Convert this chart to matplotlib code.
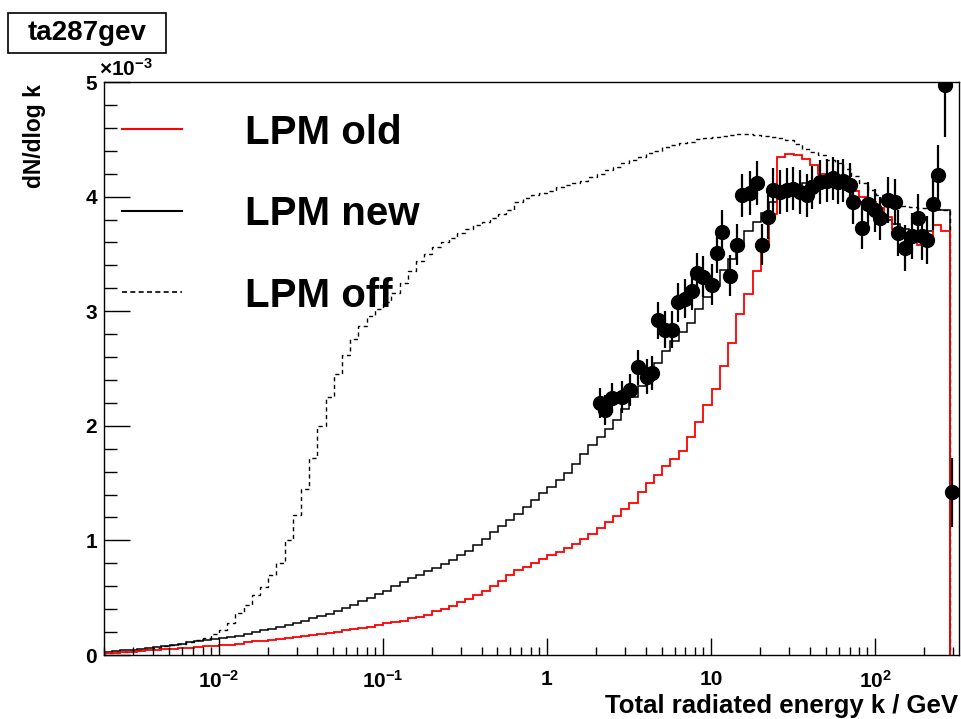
import numpy as np
import matplotlib
matplotlib.use("Agg")
import matplotlib.pyplot as plt
from matplotlib.lines import Line2D
from matplotlib.patches import Rectangle
from matplotlib.ticker import FixedLocator, FixedFormatter, MultipleLocator, NullFormatter

plt.rcParams['font.family'] = ['Liberation Sans', 'DejaVu Sans']
plt.rcParams['font.weight'] = 'bold'
plt.rcParams['mathtext.fontset'] = 'custom'
plt.rcParams['mathtext.bf'] = 'Liberation Sans:bold'
plt.rcParams['mathtext.rm'] = 'Liberation Sans:bold'
plt.rcParams['mathtext.default'] = 'bf'

# binning of the simulated spectra (log bins, 20 per decade, up to beam energy)
k_lo, k_hi, n_bins = 0.002, 285.0, 103

# dN/dlog k in units of 1e-3, one value per bin
lpm_old = [0.02, 0.02, 0.03, 0.03, 0.035, 0.04, 0.045, 0.05, 0.055, 0.06,
           0.065, 0.07, 0.075, 0.08, 0.085, 0.09, 0.10, 0.11, 0.12, 0.125,
           0.135, 0.14, 0.15, 0.16, 0.165, 0.175, 0.185, 0.195, 0.205, 0.215,
           0.225, 0.235, 0.245, 0.26, 0.275, 0.29, 0.30, 0.32, 0.335, 0.35,
           0.38, 0.40, 0.43, 0.46, 0.49, 0.52, 0.56, 0.60, 0.65, 0.70,
           0.74, 0.77, 0.80, 0.84, 0.87, 0.90, 0.93, 0.97, 1.01, 1.06,
           1.11, 1.16, 1.21, 1.27, 1.33, 1.42, 1.50, 1.57, 1.65, 1.71,
           1.78, 1.90, 2.03, 2.18, 2.32, 2.52, 2.72, 2.98, 3.15, 3.35,
           3.60, 3.85, 4.35, 4.37, 4.36, 4.33, 4.28, 4.20, 4.14, 4.10,
           4.07, 4.05, 4.00, 3.95, 3.90, 3.82, 3.72, 3.65, 3.63, 3.58,
           3.60, 3.75, 3.70]

lpm_new = [0.03, 0.035, 0.04, 0.045, 0.05, 0.06, 0.07, 0.08, 0.09, 0.10,
           0.11, 0.125, 0.135, 0.14, 0.15, 0.16, 0.17, 0.185, 0.20, 0.215,
           0.23, 0.245, 0.26, 0.28, 0.30, 0.32, 0.34, 0.36, 0.38, 0.41,
           0.44, 0.47, 0.50, 0.53, 0.56, 0.60, 0.64, 0.67, 0.70, 0.73,
           0.76, 0.79, 0.83, 0.87, 0.91, 0.96, 1.01, 1.07, 1.13, 1.18,
           1.23, 1.29, 1.35, 1.41, 1.47, 1.53, 1.59, 1.67, 1.75, 1.83,
           1.90, 1.97, 2.05, 2.15, 2.25, 2.35, 2.45, 2.55, 2.65, 2.74,
           2.82, 2.90, 3.02, 3.12, 3.22, 3.36, 3.46, 3.58, 3.70, 3.78,
           3.86, 3.95, 4.02, 4.08, 4.10, 4.12, 4.14, 4.15, 4.15, 4.12,
           4.06, 4.00, 3.95, 3.90, 3.86, 3.80, 3.76, 3.72, 3.68, 3.66,
           3.70, 3.88, 3.88]

lpm_off = [0.02, 0.025, 0.03, 0.035, 0.045, 0.055, 0.065, 0.08, 0.09, 0.10,
           0.11, 0.13, 0.15, 0.18, 0.22, 0.28, 0.37, 0.44, 0.52, 0.59,
           0.70, 0.80, 1.00, 1.22, 1.45, 1.72, 2.00, 2.25, 2.45, 2.62,
           2.76, 2.87, 2.96, 3.02, 3.08, 3.16, 3.25, 3.35, 3.44, 3.50,
           3.56, 3.60, 3.64, 3.68, 3.72, 3.75, 3.78, 3.81, 3.85, 3.88,
           3.95, 3.99, 4.01, 4.03, 4.05, 4.08, 4.10, 4.12, 4.14, 4.17,
           4.20, 4.23, 4.26, 4.29, 4.32, 4.35, 4.38, 4.40, 4.43, 4.45,
           4.47, 4.48, 4.50, 4.51, 4.52, 4.53, 4.54, 4.55, 4.55, 4.54,
           4.53, 4.52, 4.51, 4.49, 4.46, 4.42, 4.39, 4.36, 4.32, 4.29,
           4.24, 4.18, 4.12, 4.06, 4.01, 3.97, 3.94, 3.92, 3.91, 3.90,
           3.90, 3.89, 3.88]

# measured points (k in GeV, dN/dlog k in 1e-3)
k_data = [2.10, 2.26, 2.49, 2.87, 3.21, 3.59, 4.07, 4.37, 4.75, 5.24,
          5.78, 6.29, 6.94, 7.66, 8.22, 8.94, 10.1, 10.9, 11.7, 13.1,
          14.4, 15.5, 17.3, 19.1, 20.5, 22.3, 23.9, 26.4, 29.1, 31.6,
          34.9, 38.5, 41.3, 46.2, 50.9, 55.5, 59.5, 63.8, 70.4, 73.4,
          83.3, 90.6, 100, 107, 120, 132, 138, 152, 168, 183,
          194, 207, 226, 242, 267, 295]
y_data = [2.20, 2.14, 2.24, 2.25, 2.31, 2.51, 2.43, 2.46, 2.92, 2.84,
          2.84, 3.08, 3.11, 3.18, 3.33, 3.30, 3.23, 3.51, 3.69, 3.31,
          3.58, 4.01, 4.03, 4.12, 3.58, 3.82, 4.06, 4.04, 4.06, 4.07,
          4.04, 4.01, 4.08, 4.13, 4.14, 4.16, 4.13, 4.14, 4.10, 3.95,
          3.73, 3.94, 3.88, 3.81, 3.97, 3.95, 3.68, 3.55, 3.66, 3.81,
          3.66, 3.62, 3.94, 4.19, 4.97, 1.42]
y_err = [0.13, 0.13, 0.13, 0.14, 0.14, 0.15, 0.15, 0.15, 0.16, 0.16,
         0.16, 0.17, 0.17, 0.17, 0.18, 0.18, 0.18, 0.18, 0.19, 0.18,
         0.18, 0.19, 0.19, 0.19, 0.18, 0.19, 0.19, 0.19, 0.19, 0.19,
         0.19, 0.19, 0.19, 0.19, 0.19, 0.19, 0.19, 0.19, 0.19, 0.19,
         0.19, 0.19, 0.19, 0.19, 0.20, 0.20, 0.20, 0.20, 0.20, 0.21,
         0.21, 0.21, 0.23, 0.26, 0.45, 0.30]

x_ticks = [0.01, 0.1, 1, 10, 100]
x_ticklabels = ['$10^{-2}$', '$10^{-1}$', '1', '10', '$10^{2}$']

edges = np.logspace(np.log10(k_lo), np.log10(k_hi), n_bins + 1)

fig = plt.figure(figsize=(9.61, 7.19), dpi=100)
ax = fig.add_axes([0.1082, 0.0890, 0.8897, 0.7969])

ax.stairs(lpm_off, edges, baseline=0, color='black', lw=1.0, linestyle=(0, (3, 2.5)))
ax.stairs(lpm_new, edges, baseline=0, color='black', lw=1.1)
ax.stairs(lpm_old, edges, baseline=0, color='red', lw=1.3)
ax.errorbar(k_data, y_data, yerr=y_err, fmt='o', color='black', ms=10,
            elinewidth=1.6, capsize=0, zorder=5)

ax.set_xscale('log')
ax.set_xlim(0.002, 325)
ax.set_ylim(0, 5)

ax.xaxis.set_major_locator(FixedLocator(x_ticks))
ax.xaxis.set_major_formatter(FixedFormatter(x_ticklabels))
minors = [m * 10.0 ** d for d in range(-3, 3) for m in range(2, 10)]
ax.xaxis.set_minor_locator(FixedLocator(minors))
ax.xaxis.set_minor_formatter(NullFormatter())
ax.yaxis.set_major_locator(MultipleLocator(1))
ax.yaxis.set_minor_locator(MultipleLocator(0.2))

ax.tick_params(axis='x', which='major', direction='in', length=12, width=1,
               labelsize=15, pad=11, top=False)
ax.tick_params(axis='x', which='minor', direction='in', length=6, width=1, top=False)
ax.tick_params(axis='y', which='major', direction='in', length=19, width=1,
               labelsize=15, pad=5, right=False)
ax.tick_params(axis='y', which='minor', direction='in', length=9.5, width=1, right=False)
for s in ax.spines.values():
    s.set_linewidth(1.0)

fig.text(35 / 961, 1 - 84 / 719, 'dN/dlog k', rotation=90, ha='center', va='top',
         fontsize=16.5, fontweight='bold')
fig.text(958 / 961, 0.001, 'Total radiated energy k / GeV', ha='right',
         va='bottom', fontsize=18.5, fontweight='bold')
fig.text(99 / 961, 1 - 80 / 719, r'$\times10^{-3}$', ha='left', va='bottom',
         fontsize=15)

# histogram name box
fig.add_artist(Rectangle((8 / 961, 1 - 53 / 719), 158 / 961, 40 / 719,
                         transform=fig.transFigure, fill=False, ec='black', lw=1.2))
fig.text(87 / 961, 1 - 33 / 719, 'ta287gev', ha='center', va='center',
         fontsize=20, fontweight='bold')

handles = [Line2D([], [], color='red', lw=1.5),
           Line2D([], [], color='black', lw=1.5),
           Line2D([], [], color='black', lw=1.2, linestyle=(0, (3, 2)))]
ax.legend(handles, ['LPM old', 'LPM new', 'LPM off'], loc='upper left',
          bbox_to_anchor=(0.021, 0.945), frameon=False,
          handlelength=1.5, handletextpad=1.55, labelspacing=1.08,
          borderpad=0, borderaxespad=0, prop={'weight': 'bold', 'size': 29})

fig.savefig('out.png', dpi=100)
